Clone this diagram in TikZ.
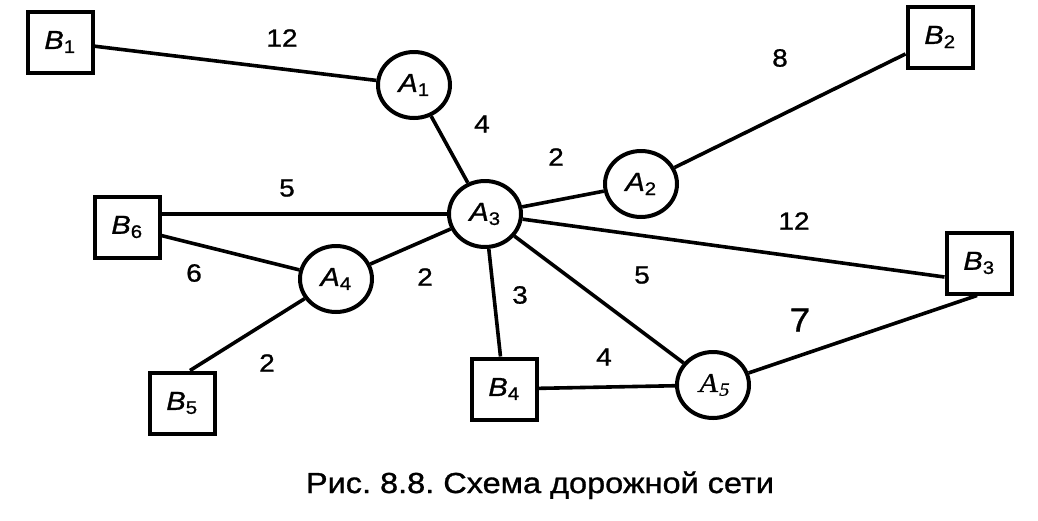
\documentclass[tikz,border=0pt]{standalone}
\usepackage{fontspec}
\setmainfont{Liberation Sans}[FakeStretch=1.12, FakeBold=1]
\newfontfamily\serifit{Liberation Serif}[FakeStretch=1.08, FakeSlant=0.2, FakeBold=0.8]
\usetikzlibrary{shapes.geometric}
\tikzstyle{stock} = [draw, rectangle, line width=4pt, minimum width=65pt, minimum height=61pt, font=\fontsize{26}{28}\selectfont]
\tikzstyle{cross} = [draw, ellipse, line width=4pt, minimum width=72pt, minimum height=66pt, font=\fontsize{26}{28}\selectfont]
\tikzstyle{road} = [draw, line width=3.6pt]
\tikzstyle{dist} = [font=\fontsize{25}{27}\selectfont]
\tikzstyle{caption} = [anchor=base, font=\fontsize{29}{31}\selectfont]
\newcommand{\lbl}[2]{\textit{#1}\textsubscript{#2}}
\frenchspacing

\begin{document}
\begin{tikzpicture}[x=1pt, y=-1pt]
	\useasboundingbox (0,0) rectangle (1038,520);

	\node [stock] (b1) at (60,42) {\lbl{B}{1}};
	\node [cross] (a1) at (414,85) {\lbl{A}{1}};
	\node [stock] (b2) at (940,37) {\lbl{B}{2}};
	\node [cross] (a2) at (641,184) {\lbl{A}{2}};
	\node [cross] (a3) at (485,214) {\lbl{A}{3}};
	\node [stock] (b6) at (127,227) {\lbl{B}{6}};
	\node [cross] (a4) at (336,279) {\lbl{A}{4}};
	\node [stock] (b3) at (979,263) {\lbl{B}{3}};
	\node [stock] (b5) at (182,403) {\lbl{B}{5}};
	\node [stock] (b4) at (504,389) {\lbl{B}{4}};
	\node [cross, font=\serifit\fontsize{27}{29}\selectfont] (a5) at (713,385) {A\textsubscript{5}};

	\node [dist] (d1) at (282,38) {12};
	\node [dist] (d2) at (482,124) {4};
	\node [dist] (d3) at (556,157) {2};
	\node [dist] (d4) at (780,58) {8};
	\node [dist] (d5) at (287,188) {5};
	\node [dist] (d6) at (794,221) {12};
	\node [dist] (d7) at (642,275) {5};
	\node [dist] (d8) at (194,273) {6};
	\node [dist] (d9) at (425,277) {2};
	\node [dist] (d10) at (520,295) {3};
	\node [dist] (d11) at (267,363) {2};
	\node [dist] (d12) at (604,357) {4};
	\node [dist, font=\fontsize{33}{35}\selectfont] (d13) at (800,320) {7};

	\node [caption] (cap) at (540,493) {Рис. 8.8. Схема дорожной сети};

	\path [road] (b1) -- (a1);
	\path [road] (a1) -- (a3);
	\path [road] (a3) -- (a2);
	\path [road] (a2) -- (b2);
	\path [road] (b6.east |- a3) -- (a3);
	\path [road] (b6) -- (a4);
	\path [road] (a4) -- (a3);
	\path [road] (a4) -- ([xshift=8pt]b5.north);
	\path [road] (a3) -- (b4);
	\path [road] (a3) -- ([yshift=-14pt]b3.west);
	\path [road] (a3) -- (a5);
	\path [road] (b4) -- (a5);
	\path [road] (a5) -- ([xshift=-2pt]b3.south);
\end{tikzpicture}
\end{document}
